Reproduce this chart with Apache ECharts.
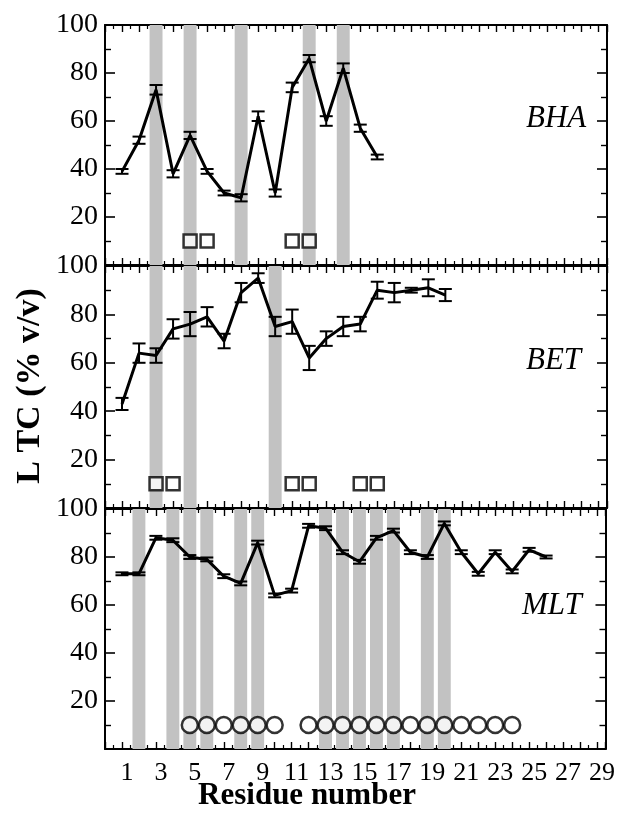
<!DOCTYPE html>
<html>
<head>
<meta charset="utf-8">
<script src="https://cdn.jsdelivr.net/npm/echarts@6/dist/echarts.min.js"></script>
<style>
  html, body { margin: 0; padding: 0; background: #fff; }
  #chart { width: 618px; height: 813px; }
</style>
</head>
<body>
<div id="chart"></div>
<script>
// ---------------- data ----------------
const panelNames = ['BHA', 'BET', 'MLT'];

const bhaValues = [39, 52, 73, 38, 54, 39, 30, 28, 62, 30, 74, 86, 60, 82, 57, 45];
const bhaErrors = [1, 1.5, 2, 1.5, 1.5, 1, 1, 1.5, 2, 1.5, 2, 1.5, 2, 2, 1.5, 1];

const betValues = [43, 64, 63, 74, 76, 79, 69, 89, 95, 75, 77, 62, 70, 75, 76, 90, 89, 90, 91, 88];
const betErrors = [2.5, 4, 3, 4, 5, 4, 3, 4, 2, 4, 5, 5, 3, 4, 3, 3.5, 4, 1, 3.5, 2.5];

const mltValues = [73, 73, 88, 87, 80, 79, 72, 69, 86, 64, 66, 93, 92, 82, 78, 88, 91, 82, 80, 94, 82, 73, 82, 74, 83, 80];
const mltErrors = [0.6, 0.6, 0.8, 0.8, 0.8, 0.8, 0.8, 0.8, 0.8, 0.8, 0.8, 0.8, 0.8, 0.8, 0.8, 0.8, 0.8, 0.8, 0.8, 0.8, 0.8, 0.8, 0.8, 0.8, 0.8, 0.6];

const bhaBands = [3, 5, 8, 12, 14];
const betBands = [3, 5, 10];
const mltBands = [2, 4, 5, 6, 8, 9, 13, 14, 15, 16, 17, 19, 20];

const bhaSquares = [5, 6, 11, 12];
const betSquares = [3, 4, 11, 12, 15, 16];
const mltCircles = [5, 6, 7, 8, 9, 10, 12, 13, 14, 15, 16, 17, 18, 19, 20, 21, 22, 23, 24];
const markerLevel = 10;

const xTickLabels = [1, 3, 5, 7, 9, 11, 13, 15, 17, 19, 21, 23, 25, 27, 29];
const yTickLabels = [20, 40, 60, 80, 100];

const xMin = 0, xMax = 29.5, yMin = 0, yMax = 100;

// ---------------- build ----------------
const panels = [
  { values: bhaValues, errors: bhaErrors, bands: bhaBands, marks: bhaSquares, symbol: 'rect' },
  { values: betValues, errors: betErrors, bands: betBands, marks: betSquares, symbol: 'rect' },
  { values: mltValues, errors: mltErrors, bands: mltBands, marks: mltCircles, symbol: 'circle' }
];

const gridBoxes = [
  { left: 105, right: 11, top: 25, height: 240 },
  { left: 105, right: 11, top: 266, height: 242 },
  { left: 105, right: 11, top: 509, height: 240 }
];

const serif = 'Liberation Serif, Times New Roman, serif';
const black = '#000';

const grids = [], xAxes = [], yAxes = [], series = [];

function errRender(params, api) {
  const x = api.value(0), y = api.value(1), e = api.value(2);
  const t = api.coord([x, y + e]);
  const b = api.coord([x, y - e]);
  const hw = 6.5;
  const st = { stroke: black, lineWidth: 2 };
  return {
    type: 'group',
    children: [
      { type: 'line', shape: { x1: t[0], y1: t[1], x2: b[0], y2: b[1] }, style: st },
      { type: 'line', shape: { x1: t[0] - hw, y1: t[1], x2: t[0] + hw, y2: t[1] }, style: st },
      { type: 'line', shape: { x1: b[0] - hw, y1: b[1], x2: b[0] + hw, y2: b[1] }, style: st }
    ]
  };
}

panels.forEach((p, i) => {
  grids.push(gridBoxes[i]);
  const isBottom = i === 2;
  const baseX = {
    type: 'value', gridIndex: i, min: xMin, max: xMax, interval: 1,
    axisLine: { show: true, onZero: false, lineStyle: { color: black, width: 2 } },
    axisTick: { show: true, inside: true, length: 7, lineStyle: { color: black, width: 1.4 } },
    minorTick: { show: true, splitNumber: 2, length: 4, lineStyle: { color: black, width: 1.2 } },
    splitLine: { show: false }
  };
  xAxes.push(Object.assign({}, baseX, {
    position: 'bottom',
    axisLabel: {
      show: isBottom, margin: 11, color: black, fontFamily: serif, fontSize: 26,
      padding: [0, 0, 0, 10],
      formatter: v => (xTickLabels.indexOf(v) >= 0 ? String(v) : '')
    }
  }));
  xAxes.push(Object.assign({}, baseX, { position: 'top', axisLabel: { show: false } }));

  const baseY = {
    type: 'value', gridIndex: i, min: yMin, max: yMax, interval: 20,
    axisLine: { show: true, onZero: false, lineStyle: { color: black, width: 2 } },
    axisTick: { show: true, inside: true, length: 10, lineStyle: { color: black, width: 1.6 } },
    minorTick: { show: true, splitNumber: 2, length: 6, lineStyle: { color: black, width: 1.4 } },
    splitLine: { show: false }
  };
  yAxes.push(Object.assign({}, baseY, {
    position: 'left',
    axisLabel: {
      show: true, margin: 7, color: black, fontFamily: serif, fontSize: 28,
      formatter: v => (yTickLabels.indexOf(v) >= 0 ? String(v) : '')
    }
  }));
  yAxes.push(Object.assign({}, baseY, { position: 'right', axisLabel: { show: false } }));

  const xi = 2 * i, yi = 2 * i;

  // gray bands
  series.push({
    type: 'line', xAxisIndex: xi, yAxisIndex: yi, data: [], z: 1, silent: true,
    markArea: {
      silent: true,
      itemStyle: { color: '#c2c2c2', opacity: 1 },
      data: p.bands.map(n => [{ xAxis: n - 0.38 }, { xAxis: n + 0.38 }])
    }
  });

  // main line
  series.push({
    type: 'line', xAxisIndex: xi, yAxisIndex: yi, z: 4, silent: true,
    data: p.values.map((v, k) => [k + 1, v]),
    showSymbol: false, symbol: 'none',
    lineStyle: { color: black, width: 3 }
  });

  // error bars
  series.push({
    type: 'custom', xAxisIndex: xi, yAxisIndex: yi, z: 5, silent: true,
    renderItem: errRender,
    encode: { x: 0, y: 1 },
    data: p.values.map((v, k) => [k + 1, v, p.errors[k]])
  });

  // markers
  series.push({
    type: 'scatter', xAxisIndex: xi, yAxisIndex: yi, z: 6, silent: true,
    symbol: p.symbol,
    symbolSize: p.symbol === 'rect' ? 13 : 16,
    itemStyle: { color: '#fff', borderColor: black, borderWidth: 2.5 },
    data: p.marks.map(n => [n, markerLevel])
  });
});

const chart = echarts.init(document.getElementById('chart'), null, { renderer: 'canvas' });
chart.setOption({
  animation: false,
  backgroundColor: '#fff',
  grid: grids,
  xAxis: xAxes,
  yAxis: yAxes,
  series: series,
  graphic: [
    { type: 'text', left: 526, top: 103, style: { text: 'BHA', font: 'italic 31px ' + serif, fill: black } },
    { type: 'text', left: 526, top: 345, style: { text: 'BET', font: 'italic 31px ' + serif, fill: black } },
    { type: 'text', left: 522, top: 590, style: { text: 'MLT', font: 'italic 31px ' + serif, fill: black } },
    { type: 'text', x: 307, y: 796, style: { text: 'Residue number', font: 'bold 31px ' + serif, fill: black, textAlign: 'center', textVerticalAlign: 'middle' } },
    { type: 'text', x: 30, y: 386, rotation: Math.PI / 2, style: { text: 'L TC (% v/v)', font: 'bold 34px ' + serif, fill: black, textAlign: 'center', textVerticalAlign: 'middle' } }
  ]
});
</script>
</body>
</html>
